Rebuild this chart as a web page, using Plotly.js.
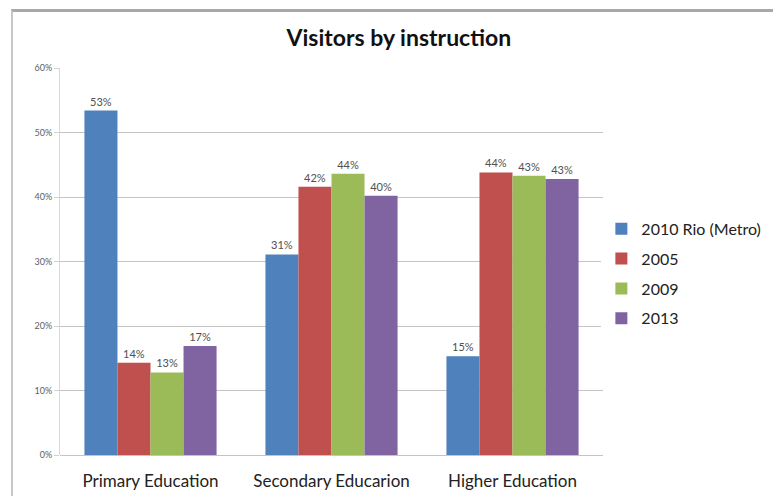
<!DOCTYPE html>
<html>
<head>
<meta charset="utf-8">
<script src="https://cdn.plot.ly/plotly-3.0.1.min.js"></script>
<style>
html,body{margin:0;padding:0;background:#fff;}
#chart{width:773px;height:496px;position:absolute;left:0;top:0;}
#frame{position:absolute;left:11px;top:9px;width:770px;height:500px;border-top:3px solid #a8a8a8;border-left:2px solid #c8c8c8;pointer-events:none;}
</style>
</head>
<body>
<div id="chart"></div>
<div id="frame"></div>
<script>
const categories = ["Primary Education", "Secondary Educarion", "Higher Education"];
const seriesNames = ["2010 Rio (Metro)", "2005", "2009", "2013"];
const rio2010 = [0.534, 0.311, 0.153];
const y2005 = [0.143, 0.416, 0.438];
const y2009 = [0.128, 0.436, 0.433];
const y2013 = [0.169, 0.402, 0.428];
const colors = ["#4F81BD", "#C0504D", "#9BBB59", "#8064A2"];
const allValues = [rio2010, y2005, y2009, y2013];

const font = "Lato, 'Open Sans', sans-serif";
const traces = allValues.map((vals, i) => ({
  type: "bar",
  name: seriesNames[i],
  legendgroup: "g" + i,
  x: categories,
  y: vals,
  marker: {color: colors[i]},
  texttemplate: "%{y:.0%}",
  textposition: "outside",
  cliponaxis: false,
  textfont: {family: font, size: 11, color: "#505050"},
  hoverinfo: "skip"
}));

const layout = {
  width: 773, height: 496,
  margin: {l: 60, r: 170, t: 68, b: 41, autoexpand: false},
  paper_bgcolor: "#fff", plot_bgcolor: "#fff",
  barmode: "group",
  bargap: 0.27,
  bargroupgap: 0,
  title: {text: "<b>Visitors by instruction</b>", x: 0.516, xanchor: "center", y: 0.923, yanchor: "middle",
          font: {family: font, size: 23, color: "#111"}},
  xaxis: {
    showgrid: false, zeroline: false, showline: false, automargin: false,
    ticks: "outside", ticklen: 11, tickcolor: "rgba(0,0,0,0)",
    tickfont: {family: font, size: 17, color: "#222"}
  },
  yaxis: {
    range: [0, 0.6], dtick: 0.1, tickformat: ".0%", automargin: false,
    showgrid: true, gridcolor: "#c4c4c4", gridwidth: 1,
    zeroline: true, zerolinecolor: "#c4c4c4",
    showline: true, linecolor: "#d8d8d8", ticks: "outside", ticklen: 5, tickcolor: "#d0d0d0",
    tickfont: {family: font, size: 9, color: "#606060"}
  },
  legend: {
    x: 0.997, xanchor: "left", y: 0.468, yanchor: "middle",
    font: {family: font, size: 16, color: "#222"},
    tracegroupgap: 6, itemwidth: 30,
    traceorder: "grouped"
  },
  showlegend: true
};

Plotly.newPlot("chart", traces, layout, {displayModeBar: false, staticPlot: true});
</script>
</body>
</html>
